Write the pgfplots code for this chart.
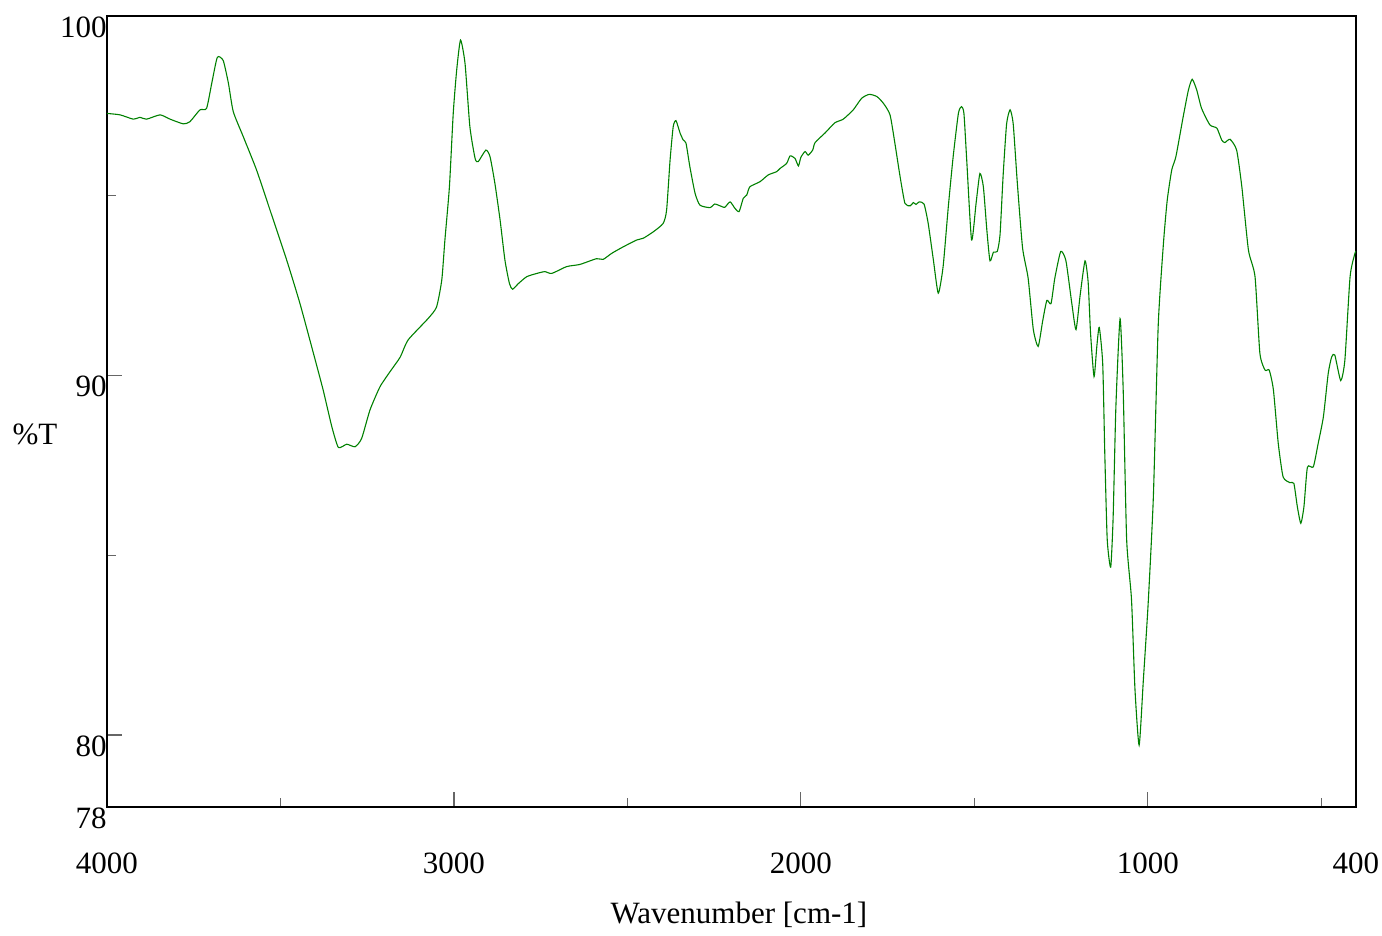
\documentclass[border=0pt]{standalone}
\usepackage{pgfplots}
\pgfplotsset{compat=1.18}
\usepackage{fontspec}
\setmainfont{Liberation Serif}
\definecolor{specgreen}{RGB}{0,128,0}
\begin{document}
\fontsize{15.5}{18}\selectfont
\begin{tikzpicture}
\begin{axis}[
    scale only axis,
    width=624.5pt, height=395.5pt,
    x dir=reverse,
    xmin=400, xmax=4000,
    ymin=78, ymax=100,
    xtick={400,1000,2000,3000,4000},
    minor xtick={500,1500,2500,3500},
    ytick={78,80,90,100},
    minor ytick={85,95},
    tick pos=left,
    tick align=inside,
    major tick length=7.5pt,
    minor tick length=4.5pt,
    every tick/.style={black!60, line width=0.6pt},
    axis line style={black, line width=0.7pt},
    /pgf/number format/1000 sep={},
    /pgf/number format/assume math mode=true,
    ticklabel style={font=\fontsize{15.5}{18}\selectfont, inner sep=0pt},
    xticklabel style={anchor=north, yshift=-22.5pt},
    yticklabel style={anchor=north east},
    xlabel={Wavenumber [cm-1]},
    xlabel style={at={(axis description cs:0.506,0)}, anchor=base, yshift=-58.25pt, inner sep=0pt},
    ylabel={\%T},
    ylabel style={rotate=-90, at={(axis description cs:0,0.4577)}, anchor=base, xshift=-36pt, inner sep=0pt},
    clip=false,
]
% %T spectrum
\addplot[color=specgreen, line width=0.55pt, smooth, tension=0.35] coordinates {
(4000,97.29) (3962,97.25) (3924,97.13) (3905,97.18) (3886,97.13) (3847,97.25)
(3818,97.13) (3780,97.00) (3761,97.06) (3732,97.39) (3713,97.43) (3698,98.13)
(3682,98.85) (3665,98.76) (3650,98.13) (3636,97.34) (3607,96.64) (3569,95.72)
(3530,94.60) (3482,93.21) (3444,92.01) (3405,90.62) (3377,89.60) (3352,88.58)
(3333,88.00) (3309,88.09) (3285,88.02) (3266,88.25) (3242,89.04) (3213,89.69)
(3184,90.11) (3155,90.51) (3132,90.99) (3074,91.59) (3050,91.91) (3035,92.66)
(3026,93.77) (3013,95.25) (3002,97.29) (2992,98.50) (2981,99.33) (2968,98.68)
(2954,96.92) (2939,96.04) (2930,95.95) (2908,96.27) (2896,96.09) (2882,95.35)
(2867,94.33) (2853,93.21) (2840,92.56) (2831,92.40) (2814,92.56) (2790,92.75)
(2761,92.84) (2738,92.89) (2718,92.84) (2675,93.03) (2637,93.09) (2589,93.25)
(2570,93.23) (2545,93.40) (2512,93.58) (2473,93.77) (2454,93.82) (2425,94.00)
(2397,94.23) (2387,94.60) (2377,95.99) (2368,96.92) (2360,97.09) (2348,96.74)
(2339,96.55) (2331,96.46) (2320,95.81) (2305,95.07) (2291,94.74) (2262,94.67)
(2248,94.77) (2228,94.70) (2219,94.68) (2204,94.83) (2190,94.65) (2178,94.56)
(2166,94.93) (2156,95.02) (2147,95.25) (2118,95.39) (2094,95.58) (2070,95.67)
(2060,95.76) (2041,95.90) (2031,96.11) (2017,96.04) (2007,95.83) (2000,96.07)
(1988,96.23) (1979,96.13) (1966,96.27) (1959,96.48) (1930,96.75) (1902,97.03)
(1878,97.13) (1849,97.39) (1825,97.71) (1803,97.82) (1781,97.76) (1762,97.57)
(1743,97.25) (1729,96.46) (1714,95.53) (1700,94.79) (1685,94.72) (1676,94.81)
(1668,94.76) (1659,94.83) (1645,94.77) (1633,94.23) (1618,93.21) (1604,92.29)
(1590,93.03) (1575,94.70) (1561,96.09) (1546,97.29) (1537,97.48) (1530,97.29)
(1522,96.00) (1508,93.77) (1495,94.79) (1484,95.62) (1474,95.25) (1464,94.05)
(1455,93.19) (1445,93.43) (1434,93.45) (1426,93.91) (1417,95.57) (1407,97.00)
(1397,97.39) (1388,97.00) (1376,95.34) (1361,93.55) (1345,92.71) (1330,91.28)
(1316,90.81) (1303,91.52) (1291,92.09) (1279,92.00) (1268,92.71) (1251,93.45)
(1236,93.19) (1219,92.00) (1207,91.28) (1195,92.24) (1181,93.19) (1172,92.60)
(1165,91.17) (1155,89.97) (1147,90.81) (1140,91.34) (1130,90.33) (1124,87.83)
(1117,85.44) (1107,84.67) (1100,86.04) (1092,89.14) (1080,91.58) (1071,89.61)
(1061,85.44) (1047,83.77) (1037,81.27) (1025,79.72) (1013,81.51) (999,83.66)
(984,86.63) (970,91.40) (955,93.67) (944,94.88) (931,95.72) (919,96.09)
(898,97.20) (883,97.94) (872,98.24) (859,97.94) (845,97.43) (821,96.97)
(801,96.88) (787,96.55) (778,96.48) (763,96.57) (744,96.27) (729,95.25)
(710,93.49) (691,92.75) (677,90.62) (662,90.15) (650,90.15) (638,89.60)
(624,88.11) (610,87.18) (590,87.02) (579,87.00) (569,86.35) (559,85.89)
(550,86.35) (540,87.45) (523,87.46) (509,88.11) (494,88.85) (480,90.06)
(470,90.52) (461,90.57) (444,89.86) (432,90.43) (417,92.75) (403,93.40)
(400,93.45)
};
\end{axis}
\pgfresetboundingbox
\path[use as bounding box] (-53.5pt,-64.5pt) rectangle (637.5pt,403.5pt);
\end{tikzpicture}
\end{document}
